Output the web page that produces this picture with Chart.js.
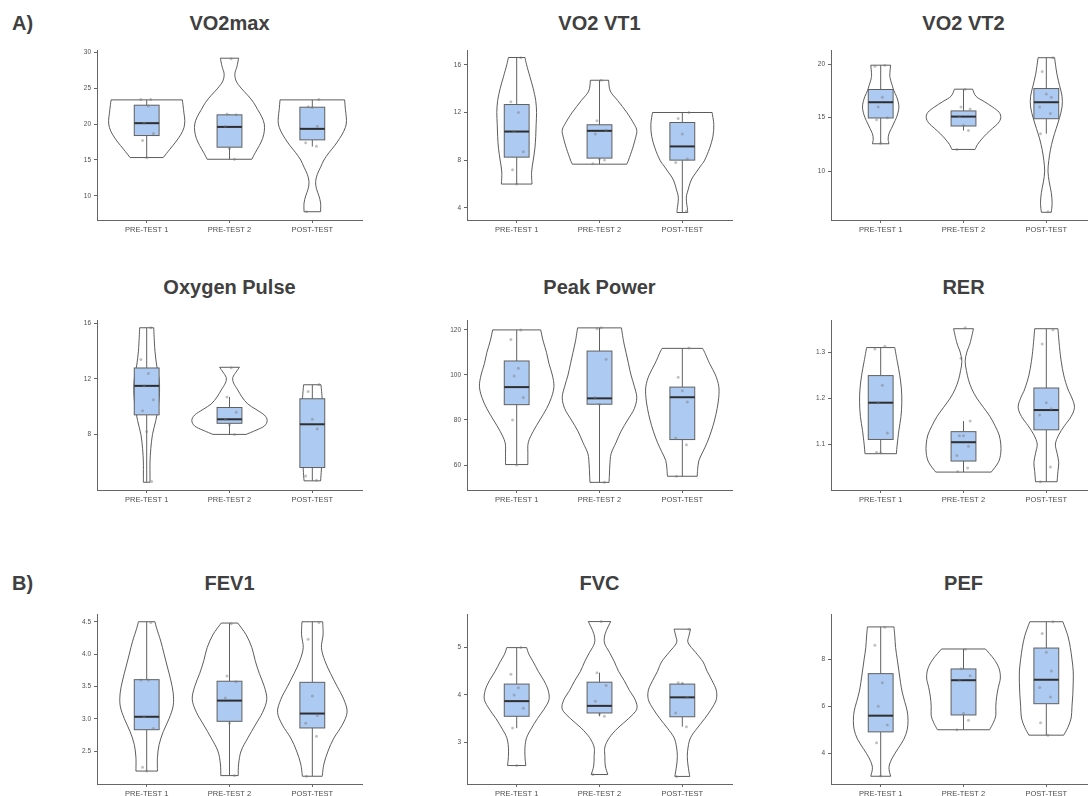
<!DOCTYPE html>
<html>
<head>
<meta charset="utf-8">
<script src="https://cdn.jsdelivr.net/npm/chart.js@4.4.0/dist/chart.umd.min.js"></script>
<style>
html, body { margin: 0; padding: 0; background: #fff; overflow: hidden; width: 1088px; height: 796px; }
canvas { position: absolute; }
.ttl { position: absolute; font: bold 20px "Liberation Sans", Arial, sans-serif; color: #404040; transform: translate(-50%, -50%); white-space: nowrap; line-height: 20px; }
.tag { position: absolute; font: bold 20px "Liberation Sans", Arial, sans-serif; color: #404040; transform: translateY(-50%); line-height: 20px; }
</style>
</head>
<body>
<div class="tag" style="left:12px;top:23px">A)</div>
<div class="tag" style="left:12px;top:583px">B)</div>
<script>
// groups on the x axis
var categories = ['PRE-TEST 1', 'PRE-TEST 2', 'POST-TEST'];

var vo2maxPoints = [[23.4, 23.4, 22.5, 20.1, 18.7, 17.7, 15.3], [29.1, 21.4, 21.3, 19.7, 16.6, 15.1], [23.4, 22.4, 22.3, 19.7, 17.4, 16.9, 7.8]];
var vt1Points = [[16.6, 12.9, 12.0, 10.4, 8.7, 7.2, 6.0], [14.7, 11.3, 10.5, 10.2, 8.1, 8.0, 7.7], [12.0, 11.5, 10.2, 8.1, 7.8, 3.7]];
var vt2Points = [[19.9, 19.8, 16.9, 16.0, 15.0, 14.8, 12.6], [17.66, 16.0, 15.8, 15.1, 14.3, 13.8, 12.03], [20.6, 19.3, 17.2, 16.9, 16.0, 15.4, 13.5, 6.2]];
var o2pulsePoints = [[15.7, 13.4, 12.4, 11.5, 10.5, 9.7, 8.2, 4.6], [12.8, 10.7, 9.6, 9.1, 8.7, 8.0], [11.6, 11.1, 9.1, 8.4, 5.0, 4.7]];
var powerPoints = [[120, 115.7, 103, 99.5, 90, 80, 60], [121, 120.5, 107, 90, 87, 52.3], [112, 99, 93, 88, 72, 69, 55]];
var rerPoints = [[1.313, 1.307, 1.228, 1.19, 1.124, 1.082, 1.081], [1.353, 1.287, 1.15, 1.118, 1.118, 1.095, 1.075, 1.048, 1.04], [1.349, 1.318, 1.19, 1.177, 1.163, 1.05, 1.018]];
var fev1Points = [[4.49, 3.6, 3.6, 3.03, 2.85, 2.25, 2.19], [4.47, 3.66, 3.57, 3.32, 2.93, 2.12], [4.49, 4.23, 3.35, 3.05, 2.93, 2.73, 2.11]];
var fvcPoints = [[5.0, 4.44, 4.15, 4.0, 3.72, 3.3, 2.51], [5.55, 4.47, 4.2, 3.87, 3.6, 3.55, 2.32], [5.39, 4.26, 4.25, 3.95, 3.62, 3.33, 2.28]];
var pefPoints = [[9.37, 8.6, 7.0, 6.0, 5.2, 4.45, 3.03], [8.43, 7.6, 7.3, 7.12, 5.7, 5.4, 5.0], [9.6, 9.1, 8.3, 7.5, 6.8, 6.4, 5.3, 4.77]];

// box stats: [lower whisker, q1, median, q3, upper whisker]
var vo2maxBox = [[15.34, 18.4, 20.12, 22.62, 23.36], [15.1, 16.78, 19.6, 21.28, 21.4], [16.87, 17.8, 19.33, 22.34, 23.36]];
var vt1Box = [[5.99, 8.25, 10.4, 12.67, 16.62], [7.66, 8.17, 10.46, 10.97, 14.71], [3.6, 8.0, 9.15, 11.16, 12.0]];
var vt2Box = [[12.56, 14.97, 16.44, 17.63, 19.9], [13.8, 14.22, 15.1, 15.63, 17.66], [13.5, 14.9, 16.44, 17.72, 20.6]];
var o2pulseBox = [[4.55, 9.41, 11.5, 12.79, 15.69], [8.0, 8.8, 9.09, 9.94, 10.7], [4.65, 5.61, 8.73, 10.57, 11.58]];
var powerBox = [[60.2, 86.8, 94.6, 106.2, 120], [52.3, 87, 89.6, 110.6, 120.9], [55, 71.3, 90.1, 94.6, 111.8]];
var rerBox = [[1.08, 1.11, 1.19, 1.249, 1.31], [1.039, 1.063, 1.104, 1.127, 1.15], [1.018, 1.131, 1.174, 1.222, 1.351]];
var fev1Box = [[2.19, 2.83, 3.03, 3.604, 4.5], [2.12, 2.96, 3.28, 3.58, 4.48], [2.11, 2.857, 3.08, 3.563, 4.5]];
var fvcBox = [[3.3, 3.55, 3.87, 4.23, 5.0], [3.55, 3.62, 3.77, 4.27, 4.47], [3.33, 3.54, 3.95, 4.23, 4.25]];
var pefBox = [[3.02, 4.91, 5.6, 7.39, 9.38], [5.0, 5.63, 7.11, 7.59, 8.44], [4.77, 6.11, 7.13, 8.48, 9.6]];

// violin density: [value, half width in group units]
var vo2maxViolin = [
  [[15.34, 0.20], [16.5, 0.28], [17.5, 0.35], [18.5, 0.41], [19.5, 0.45], [20.5, 0.46], [21.5, 0.45], [22.5, 0.44], [23.36, 0.43]],
  [[15.1, 0.27], [16, 0.31], [17, 0.36], [18, 0.40], [19, 0.42], [20, 0.42], [21, 0.39], [22, 0.34], [23, 0.29], [24, 0.22], [25, 0.14], [26, 0.08], [27, 0.065], [28, 0.09], [29.16, 0.11]],
  [[7.8, 0.10], [9, 0.10], [10, 0.08], [11, 0.05], [12, 0.04], [13, 0.06], [14, 0.10], [15, 0.14], [16, 0.20], [17, 0.27], [18, 0.33], [19, 0.38], [20, 0.41], [21, 0.41], [22, 0.40], [23.36, 0.39]]
];
var vt1Violin = [
  [[5.99, 0.185], [7, 0.18], [8, 0.2], [9, 0.22], [10, 0.23], [11, 0.235], [12, 0.24], [13, 0.23], [14, 0.2], [15, 0.16], [16, 0.12], [16.62, 0.1]],
  [[7.66, 0.33], [8, 0.35], [9, 0.4], [10, 0.44], [10.5, 0.45], [11, 0.42], [12, 0.33], [13, 0.22], [13.8, 0.13], [14.71, 0.11]],
  [[3.6, 0.065], [4, 0.06], [4.5, 0.05], [5, 0.05], [5.5, 0.07], [6, 0.09], [6.5, 0.12], [7, 0.17], [7.5, 0.22], [8, 0.27], [9, 0.33], [10, 0.37], [11, 0.38], [12, 0.36]]
];
var vt2Violin = [
  [[12.56, 0.1], [13, 0.09], [13.5, 0.1], [14, 0.13], [14.5, 0.16], [15, 0.19], [15.5, 0.21], [16, 0.22], [16.5, 0.21], [17, 0.19], [17.5, 0.16], [18, 0.14], [18.5, 0.12], [19, 0.11], [19.9, 0.12]],
  [[12.03, 0.14], [12.5, 0.17], [13, 0.22], [13.5, 0.28], [14, 0.35], [14.5, 0.42], [15, 0.45], [15.5, 0.43], [16, 0.35], [16.5, 0.25], [17, 0.15], [17.66, 0.11]],
  [[6.16, 0.06], [7, 0.07], [8, 0.06], [9, 0.035], [10, 0.02], [11, 0.03], [12, 0.05], [13, 0.08], [14, 0.12], [15, 0.16], [16, 0.19], [17, 0.19], [18, 0.16], [19, 0.13], [20, 0.11], [20.6, 0.1]]
];
var o2pulseViolin = [
  [[4.55, 0.04], [5, 0.04], [6, 0.04], [7, 0.05], [8, 0.07], [9, 0.11], [10, 0.14], [11, 0.155], [12, 0.15], [13, 0.12], [14, 0.1], [15, 0.09], [15.69, 0.085]],
  [[8.0, 0.2], [8.3, 0.32], [8.6, 0.42], [9.0, 0.455], [9.4, 0.42], [9.8, 0.32], [10.2, 0.22], [10.7, 0.15], [11.2, 0.1], [11.7, 0.05], [12.1, 0.04], [12.5, 0.08], [12.84, 0.12]],
  [[4.65, 0.1], [5.5, 0.11], [6.5, 0.12], [7.5, 0.13], [8.5, 0.13], [9.5, 0.13], [10.5, 0.12], [11.58, 0.105]]
];
var powerViolin = [
  [[60.2, 0.135], [65, 0.135], [70, 0.14], [75, 0.2], [80, 0.28], [85, 0.36], [90, 0.42], [95, 0.45], [100, 0.43], [105, 0.39], [110, 0.36], [115, 0.32], [120, 0.29]],
  [[52.3, 0.115], [56, 0.12], [60, 0.125], [65, 0.14], [70, 0.2], [75, 0.26], [80, 0.34], [85, 0.42], [90, 0.45], [95, 0.42], [100, 0.38], [105, 0.35], [110, 0.32], [115, 0.29], [120.9, 0.265]],
  [[55, 0.18], [58, 0.185], [62, 0.2], [66, 0.25], [70, 0.3], [75, 0.35], [80, 0.39], [85, 0.42], [90, 0.44], [95, 0.44], [100, 0.4], [105, 0.33], [110, 0.27], [111.8, 0.245]]
];
var rerViolin = [
  [[1.079, 0.19], [1.1, 0.2], [1.13, 0.22], [1.16, 0.245], [1.19, 0.255], [1.22, 0.25], [1.25, 0.23], [1.28, 0.2], [1.31, 0.17]],
  [[1.039, 0.335], [1.06, 0.42], [1.08, 0.45], [1.1, 0.45], [1.12, 0.43], [1.14, 0.38], [1.16, 0.32], [1.18, 0.24], [1.2, 0.16], [1.22, 0.1], [1.24, 0.06], [1.26, 0.035], [1.28, 0.02], [1.3, 0.04], [1.32, 0.08], [1.351, 0.12]],
  [[1.018, 0.13], [1.04, 0.14], [1.06, 0.15], [1.08, 0.13], [1.1, 0.11], [1.12, 0.15], [1.14, 0.22], [1.16, 0.3], [1.18, 0.34], [1.2, 0.31], [1.22, 0.26], [1.25, 0.21], [1.28, 0.18], [1.31, 0.16], [1.351, 0.14]]
];
var fev1Violin = [
  [[2.19, 0.13], [2.4, 0.13], [2.6, 0.15], [2.8, 0.2], [3.0, 0.27], [3.2, 0.32], [3.4, 0.32], [3.6, 0.29], [3.8, 0.25], [4.0, 0.21], [4.2, 0.17], [4.4, 0.12], [4.5, 0.1]],
  [[2.12, 0.105], [2.3, 0.11], [2.5, 0.14], [2.7, 0.22], [2.9, 0.31], [3.1, 0.4], [3.3, 0.45], [3.5, 0.42], [3.7, 0.36], [3.9, 0.31], [4.1, 0.27], [4.3, 0.2], [4.48, 0.1]],
  [[2.11, 0.12], [2.3, 0.14], [2.5, 0.19], [2.7, 0.26], [2.9, 0.36], [3.1, 0.42], [3.3, 0.38], [3.5, 0.3], [3.7, 0.22], [3.9, 0.15], [4.1, 0.11], [4.3, 0.13], [4.5, 0.125]]
];
var fvcViolin = [
  [[2.51, 0.11], [2.7, 0.1], [2.9, 0.1], [3.1, 0.12], [3.3, 0.18], [3.5, 0.25], [3.7, 0.33], [3.9, 0.39], [4.1, 0.38], [4.3, 0.33], [4.5, 0.26], [4.7, 0.2], [4.85, 0.15], [5.0, 0.12]],
  [[2.32, 0.1], [2.5, 0.07], [2.7, 0.065], [2.9, 0.065], [3.1, 0.12], [3.3, 0.22], [3.5, 0.35], [3.7, 0.45], [3.9, 0.43], [4.1, 0.36], [4.3, 0.3], [4.5, 0.23], [4.7, 0.18], [4.9, 0.12], [5.1, 0.06], [5.3, 0.07], [5.55, 0.135]],
  [[2.28, 0.09], [2.5, 0.07], [2.7, 0.06], [2.9, 0.07], [3.1, 0.1], [3.3, 0.18], [3.5, 0.27], [3.7, 0.35], [3.9, 0.41], [4.1, 0.41], [4.3, 0.36], [4.5, 0.3], [4.7, 0.25], [4.9, 0.16], [5.1, 0.07], [5.25, 0.08], [5.39, 0.1]]
];
var pefViolin = [
  [[3.02, 0.12], [3.4, 0.1], [3.8, 0.14], [4.2, 0.21], [4.6, 0.28], [5.0, 0.32], [5.4, 0.33], [5.8, 0.32], [6.2, 0.29], [6.6, 0.26], [7.0, 0.24], [7.5, 0.22], [8.0, 0.2], [8.5, 0.18], [9.0, 0.17], [9.38, 0.16]],
  [[5.0, 0.315], [5.3, 0.36], [5.6, 0.39], [6.0, 0.39], [6.4, 0.4], [6.8, 0.42], [7.2, 0.445], [7.6, 0.43], [8.0, 0.37], [8.44, 0.265]],
  [[4.77, 0.21], [5.1, 0.26], [5.5, 0.3], [6.0, 0.31], [6.5, 0.32], [7.0, 0.325], [7.5, 0.325], [8.0, 0.31], [8.5, 0.29], [9.0, 0.26], [9.6, 0.2]]
];

// y tick labels
var vo2maxTicks = ['10', '15', '20', '25', '30'];
var vt1Ticks = ['4', '8', '12', '16'];
var vt2Ticks = ['10', '15', '20'];
var o2pulseTicks = ['8', '12', '16'];
var powerTicks = ['60', '80', '100', '120'];
var rerTicks = ['1.1', '1.2', '1.3'];
var fev1Ticks = ['2.5', '3.0', '3.5', '4.0', '4.5'];
var fvcTicks = ['3', '4', '5'];
var pefTicks = ['4', '6', '8'];

var panels = [
  { title: 'VO2max', pts: vo2maxPoints, box: vo2maxBox, vio: vo2maxViolin, ticks: vo2maxTicks, min: 6.65, max: 30.3, col: 0, row: 0 },
  { title: 'VO2 VT1', pts: vt1Points, box: vt1Box, vio: vt1Violin, ticks: vt1Ticks, min: 2.97, max: 17.25, col: 1, row: 0 },
  { title: 'VO2 VT2', pts: vt2Points, box: vt2Box, vio: vt2Violin, ticks: vt2Ticks, min: 5.44, max: 21.32, col: 2, row: 0 },
  { title: 'Oxygen Pulse', pts: o2pulsePoints, box: o2pulseBox, vio: o2pulseViolin, ticks: o2pulseTicks, min: 3.99, max: 16.25, col: 0, row: 1 },
  { title: 'Peak Power', pts: powerPoints, box: powerBox, vio: powerViolin, ticks: powerTicks, min: 48.9, max: 124.4, col: 1, row: 1 },
  { title: 'RER', pts: rerPoints, box: rerBox, vio: rerViolin, ticks: rerTicks, min: 1.0, max: 1.37, col: 2, row: 1 },
  { title: 'FEV1', pts: fev1Points, box: fev1Box, vio: fev1Violin, ticks: fev1Ticks, min: 1.99, max: 4.62, col: 0, row: 2 },
  { title: 'FVC', pts: fvcPoints, box: fvcBox, vio: fvcViolin, ticks: fvcTicks, min: 2.12, max: 5.71, col: 1, row: 2 },
  { title: 'PEF', pts: pefPoints, box: pefBox, vio: pefViolin, ticks: pefTicks, min: 2.69, max: 9.93, col: 2, row: 2 }
];

var colX = [97, 467, 831];
var rowTop = [50, 320, 614];
var rowTitleY = [23, 287, 583];
var plotW = 265, plotH = 170;
var jit = [0.05, -0.07, 0.02, -0.03, 0.08, -0.05, 0.0, 0.06, -0.08];
var fontFam = '"Liberation Sans", Arial, sans-serif';

Chart.defaults.font.family = fontFam;

// catmull-rom through pixel points, pen already at pts[0]
function smooth(ctx, pts) {
  for (var i = 0; i < pts.length - 1; i++) {
    var p0 = pts[i - 1] || pts[i], p1 = pts[i], p2 = pts[i + 1], p3 = pts[i + 2] || p2;
    ctx.bezierCurveTo(
      p1.x + (p2.x - p0.x) / 6, p1.y + (p2.y - p0.y) / 6,
      p2.x - (p3.x - p1.x) / 6, p2.y - (p3.y - p1.y) / 6,
      p2.x, p2.y);
  }
}

function violinPlugin(p) {
  return {
    id: 'violin',
    beforeDatasetsDraw: function (chart) {
      var ctx = chart.ctx, xs = chart.scales.x, ys = chart.scales.y;
      for (var g = 0; g < 3; g++) {
        var c = g + 1, prof = p.vio[g], b = p.box[g];
        var right = prof.map(function (d) { return { x: xs.getPixelForValue(c + d[1]), y: ys.getPixelForValue(d[0]) }; });
        var left = prof.slice().reverse().map(function (d) { return { x: xs.getPixelForValue(c - d[1]), y: ys.getPixelForValue(d[0]) }; });
        ctx.save();
        ctx.beginPath();
        ctx.moveTo(left[left.length - 1].x, left[left.length - 1].y);
        ctx.lineTo(right[0].x, right[0].y);
        smooth(ctx, right);
        ctx.lineTo(left[0].x, left[0].y);
        smooth(ctx, left);
        ctx.closePath();
        ctx.fillStyle = '#ffffff';
        ctx.fill();
        ctx.strokeStyle = '#4a4a4a';
        ctx.lineWidth = 0.9;
        ctx.stroke();

        // whiskers
        var cx = xs.getPixelForValue(c);
        ctx.beginPath();
        ctx.moveTo(cx, ys.getPixelForValue(b[0]));
        ctx.lineTo(cx, ys.getPixelForValue(b[1]));
        ctx.moveTo(cx, ys.getPixelForValue(b[3]));
        ctx.lineTo(cx, ys.getPixelForValue(b[4]));
        ctx.strokeStyle = '#606060';
        ctx.lineWidth = 1;
        ctx.stroke();

        // box
        var x0 = xs.getPixelForValue(c - 0.15), x1 = xs.getPixelForValue(c + 0.15);
        var yq1 = ys.getPixelForValue(b[1]), yq3 = ys.getPixelForValue(b[3]);
        ctx.fillStyle = '#adcaf2';
        ctx.fillRect(x0, yq3, x1 - x0, yq1 - yq3);
        ctx.strokeStyle = '#606060';
        ctx.strokeRect(x0, yq3, x1 - x0, yq1 - yq3);

        // median
        var ym = ys.getPixelForValue(b[2]);
        ctx.beginPath();
        ctx.moveTo(x0, ym);
        ctx.lineTo(x1, ym);
        ctx.strokeStyle = '#2e2e2e';
        ctx.lineWidth = 2;
        ctx.stroke();
        ctx.restore();
      }
    }
  };
}

panels.forEach(function (p) {
  var cv = document.createElement('canvas');
  cv.width = 40 + plotW + 8;
  cv.height = 8 + plotH + 18;
  cv.style.left = (colX[p.col] - 40) + 'px';
  cv.style.top = (rowTop[p.row] - 8) + 'px';
  document.body.appendChild(cv);

  var t = document.createElement('div');
  t.className = 'ttl';
  t.textContent = p.title;
  t.style.left = (colX[p.col] + plotW / 2) + 'px';
  t.style.top = rowTitleY[p.row] + 'px';
  document.body.appendChild(t);

  var pts = [];
  p.pts.forEach(function (grp, g) {
    grp.forEach(function (v, i) {
      pts.push({ x: g + 1 + jit[(i + g * 2) % jit.length], y: v });
    });
  });

  new Chart(cv, {
    type: 'scatter',
    data: {
      datasets: [{
        data: pts,
        pointRadius: 1.5,
        pointBackgroundColor: 'rgba(120,120,120,0.45)',
        pointBorderWidth: 0
      }]
    },
    options: {
      responsive: false,
      animation: false,
      devicePixelRatio: 1,
      layout: { padding: { top: 8, right: 8, left: 0, bottom: 0 } },
      plugins: { legend: { display: false }, tooltip: { enabled: false } },
      scales: {
        x: {
          type: 'linear',
          min: 0.4,
          max: 3.6,
          afterBuildTicks: function (s) { s.ticks = [1, 2, 3].map(function (v) { return { value: v }; }); },
          afterFit: function (s) { s.height = 18; },
          ticks: {
            callback: function (v) { return categories[v - 1]; },
            color: '#4d4d4d',
            font: { size: 7.5 },
            padding: 2,
            autoSkip: false,
            maxRotation: 0
          },
          grid: { drawOnChartArea: false, drawTicks: true, tickLength: 3, color: '#666' },
          border: { display: true, color: '#666', width: 1 }
        },
        y: {
          min: p.min,
          max: p.max,
          afterBuildTicks: function (s) { s.ticks = p.ticks.map(function (v) { return { value: Number(v) }; }); },
          afterFit: function (s) { s.width = 40; },
          ticks: {
            callback: function (v) {
              for (var i = 0; i < p.ticks.length; i++) {
                if (Number(p.ticks[i]) === v) return p.ticks[i];
              }
              return '';
            },
            color: '#4d4d4d',
            font: { size: 6.5 },
            padding: 3
          },
          grid: { drawOnChartArea: false, drawTicks: true, tickLength: 3, color: '#666' },
          border: { display: true, color: '#666', width: 1 }
        }
      }
    },
    plugins: [violinPlugin(p)]
  });
});
</script>
</body>
</html>
